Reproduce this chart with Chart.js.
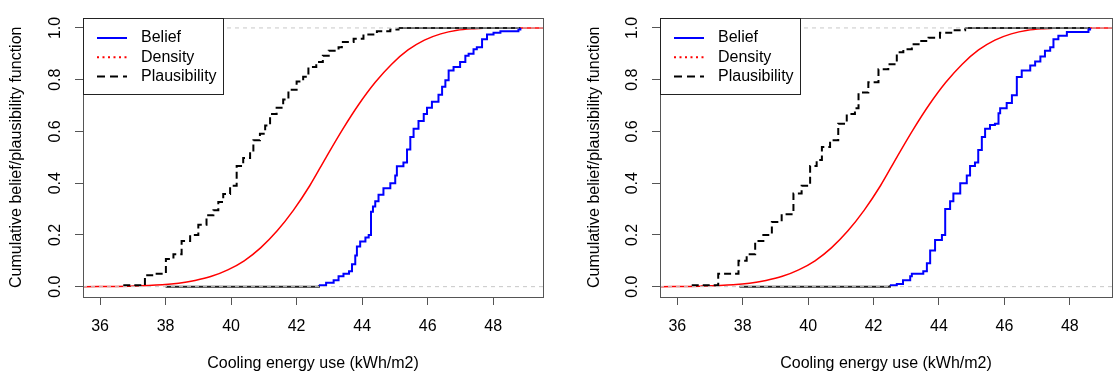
<!DOCTYPE html>
<html>
<head>
<meta charset="utf-8">
<script src="https://cdn.jsdelivr.net/npm/chart.js@4.4.0/dist/chart.umd.min.js"></script>
<style>
  body { margin: 0; background: #fff; }
  #wrap { position: relative; width: 1114px; height: 376px; }
  canvas { position: absolute; top: 0; }
</style>
</head>
<body>
<div id="wrap">
  <canvas id="leftPanel" width="557" height="376" style="left:0"></canvas>
  <canvas id="rightPanel" width="557" height="376" style="left:557px"></canvas>
</div>
<script>
// axis ticks and labels
const xTicks = [36, 38, 40, 42, 44, 46, 48];
const yTicks = [0, 0.2, 0.4, 0.6, 0.8, 1.0];
const refLevels = [0, 1];
const seriesNames = ['Belief', 'Density', 'Plausibility'];
const xTitle = 'Cooling energy use (kWh/m2)';
const yTitle = 'Cumulative belief/plausibility function';

// left panel
const leftBelX = [38.0, 42.68, 42.9, 43.13, 43.28, 43.43, 43.6, 43.69, 43.79, 43.84, 43.94, 44.1, 44.2, 44.27, 44.33, 44.4, 44.5, 44.65, 44.86, 45.01, 45.06, 45.26, 45.37, 45.47, 45.57, 45.72, 45.88, 45.98, 46.13, 46.33, 46.44, 46.54, 46.64, 46.79, 46.99, 47.15, 47.25, 47.4, 47.5, 47.66, 47.81, 48.01, 48.22, 48.77, 48.83];
const leftBelY = [0, 0.005, 0.015, 0.025, 0.04, 0.05, 0.06, 0.087, 0.12, 0.155, 0.175, 0.19, 0.2, 0.29, 0.31, 0.33, 0.355, 0.38, 0.4, 0.43, 0.465, 0.48, 0.53, 0.578, 0.61, 0.64, 0.667, 0.692, 0.715, 0.742, 0.773, 0.798, 0.836, 0.849, 0.868, 0.893, 0.9, 0.918, 0.925, 0.956, 0.975, 0.981, 0.987, 0.994, 1.0];
const leftPlX = [36.71, 37.37, 37.63, 38.01, 38.24, 38.49, 38.75, 39.0, 39.25, 39.46, 39.61, 39.76, 39.97, 40.17, 40.37, 40.58, 40.68, 40.88, 41.04, 41.19, 41.39, 41.59, 41.75, 42.0, 42.2, 42.36, 42.6, 42.8, 42.98, 43.28, 43.38, 43.74, 44.04, 44.45, 44.86, 45.11, 48.83];
const leftPlY = [0.005, 0.044, 0.05, 0.107, 0.125, 0.176, 0.2, 0.239, 0.276, 0.295, 0.327, 0.358, 0.39, 0.466, 0.497, 0.516, 0.566, 0.591, 0.623, 0.667, 0.692, 0.723, 0.761, 0.793, 0.811, 0.849, 0.868, 0.893, 0.912, 0.925, 0.946, 0.958, 0.975, 0.987, 0.994, 1.0, 1.0];
const leftDenX = [35.48, 36.9, 37.9, 38.4, 38.9, 39.4, 39.9, 40.4, 40.9, 41.4, 41.9, 42.4, 42.9, 43.4, 43.9, 44.4, 44.9, 45.4, 45.9, 46.4, 46.9, 47.4, 47.9, 49.52];
const leftDenY = [0, 0.002, 0.007, 0.013, 0.024, 0.04, 0.065, 0.1, 0.15, 0.215, 0.295, 0.39, 0.5, 0.607, 0.705, 0.79, 0.86, 0.915, 0.953, 0.977, 0.991, 0.997, 1.0, 1.0];

// right panel
const rightBelX = [37.9, 42.5, 42.71, 42.9, 43.12, 43.17, 43.52, 43.63, 43.73, 43.88, 44.09, 44.19, 44.34, 44.44, 44.65, 44.85, 44.95, 45.1, 45.2, 45.31, 45.41, 45.56, 45.71, 45.82, 45.87, 46.07, 46.23, 46.38, 46.53, 46.79, 46.94, 47.1, 47.24, 47.4, 47.5, 47.65, 47.91, 48.57, 48.62];
const rightBelY = [0, 0.005, 0.01, 0.025, 0.04, 0.05, 0.06, 0.09, 0.14, 0.18, 0.2, 0.3, 0.33, 0.36, 0.4, 0.43, 0.466, 0.48, 0.528, 0.578, 0.61, 0.625, 0.63, 0.67, 0.69, 0.71, 0.74, 0.81, 0.836, 0.855, 0.87, 0.89, 0.912, 0.925, 0.956, 0.97, 0.984, 0.994, 1.0];
const rightPlX = [36.44, 37.25, 37.87, 38.12, 38.38, 38.63, 38.89, 39.19, 39.55, 39.8, 40.06, 40.26, 40.42, 40.67, 40.92, 41.18, 41.43, 41.54, 41.84, 42.15, 42.45, 42.71, 42.91, 43.17, 43.42, 43.68, 44.03, 44.44, 44.8, 48.62];
const rightPlY = [0.005, 0.05, 0.1, 0.125, 0.176, 0.2, 0.25, 0.28, 0.36, 0.39, 0.466, 0.49, 0.54, 0.566, 0.63, 0.667, 0.69, 0.75, 0.79, 0.84, 0.86, 0.906, 0.918, 0.937, 0.95, 0.962, 0.981, 0.991, 1.0, 1.0];
const rightDenX = [35.47, 36.71, 37.71, 38.21, 38.71, 39.21, 39.71, 40.21, 40.71, 41.21, 41.71, 42.21, 42.71, 43.21, 43.71, 44.21, 44.71, 45.21, 45.71, 46.21, 46.71, 47.21, 47.71, 49.29];
const rightDenY = [0, 0.002, 0.007, 0.013, 0.024, 0.04, 0.065, 0.1, 0.15, 0.215, 0.295, 0.39, 0.5, 0.607, 0.705, 0.79, 0.86, 0.915, 0.953, 0.977, 0.991, 0.997, 1.0, 1.0];

const FONT = "'Liberation Sans', Arial, sans-serif";
Chart.defaults.font.family = FONT;
Chart.defaults.font.size = 16;
Chart.defaults.color = '#000';

function zip(xs, ys) {
  return xs.map((x, i) => ({ x: x, y: ys[i] }));
}

// R style box round the plot area
const plotBox = {
  id: 'plotBox',
  afterDraw(chart) {
    const a = chart.chartArea;
    const ctx = chart.ctx;
    ctx.save();
    ctx.strokeStyle = '#555';
    ctx.lineWidth = 1;
    ctx.strokeRect(Math.round(a.left) + 0.5, Math.round(a.top) + 0.5,
      Math.round(a.right - a.left), Math.round(a.bottom - a.top));
    ctx.restore();
  }
};

// legend in the top left corner, like legend("topleft") in R
const legendLines = [
  { color: '#0000ff', dash: [], width: 2 },
  { color: '#ff0000', dash: [2, 3.5], width: 2 },
  { color: '#000000', dash: [8, 5], width: 2 }
];
const cornerLegend = {
  id: 'cornerLegend',
  afterDraw(chart) {
    const a = chart.chartArea;
    const ctx = chart.ctx;
    const x0 = Math.round(a.left) + 0.5, y0 = Math.round(a.top) + 0.5;
    ctx.save();
    ctx.fillStyle = '#fff';
    ctx.fillRect(x0, y0, 140, 76);
    ctx.strokeStyle = '#222';
    ctx.lineWidth = 1;
    ctx.strokeRect(x0, y0, 140, 76);
    seriesNames.forEach((name, i) => {
      const st = legendLines[i];
      const yy = y0 + 19.5 + i * 19.2;
      ctx.beginPath();
      ctx.setLineDash(st.dash);
      ctx.strokeStyle = st.color;
      ctx.lineWidth = st.width;
      ctx.moveTo(x0 + 13.5, yy);
      ctx.lineTo(x0 + 43.5, yy);
      ctx.stroke();
      ctx.setLineDash([]);
      ctx.fillStyle = '#000';
      ctx.font = '16px ' + FONT;
      ctx.textBaseline = 'middle';
      ctx.fillText(name, x0 + 57.5, yy);
    });
    ctx.restore();
  }
};

function makePanel(id, bel, pl, den, geom) {
  const refSets = refLevels.map(v => ({
    data: [{ x: geom.xMin, y: v }, { x: geom.xMax, y: v }],
    borderColor: '#c8c8c8', borderWidth: 1, borderDash: [4, 4], order: 0
  }));
  return new Chart(document.getElementById(id), {
    type: 'line',
    data: {
      datasets: [
        ...refSets,
        {
          label: seriesNames[0], data: bel, stepped: true,
          borderColor: '#0000ff', borderWidth: 2, order: 1,
          segment: { borderColor: c => c.p0.parsed.y === 0 ? '#222' : undefined }
        },
        {
          label: seriesNames[2], data: pl, stepped: true,
          borderColor: '#000', borderWidth: 2, borderDash: [7, 4], order: 2,
          segment: {
            borderColor: c => c.p0.parsed.y === 1 ? '#222' : undefined,
            borderDash: c => c.p0.parsed.y === 1 ? [] : undefined
          }
        },
        {
          label: seriesNames[1], data: den,
          borderColor: '#ff0000', borderWidth: 1.5, cubicInterpolationMode: 'monotone', order: 3
        }
      ]
    },
    options: {
      responsive: false,
      animation: false,
      devicePixelRatio: 1,
      layout: { padding: { top: 11, right: geom.padRight, left: 0, bottom: 0 } },
      elements: { point: { radius: 0 } },
      plugins: { legend: { display: false }, tooltip: { enabled: false } },
      scales: {
        x: {
          type: 'linear', min: geom.xMin, max: geom.xMax,
          afterBuildTicks: s => { s.ticks = xTicks.map(v => ({ value: v })); },
          afterFit: s => { s.height = 79; },
          border: { display: false },
          grid: { drawOnChartArea: false, tickLength: 8, tickColor: '#555', color: '#555' },
          ticks: { padding: 12, maxRotation: 0, autoSkip: false, color: '#000' },
          title: { display: true, text: xTitle, color: '#000', padding: { top: 0, bottom: 3 } }
        },
        y: {
          type: 'linear', min: -0.04, max: 1.04,
          afterBuildTicks: s => { s.ticks = yTicks.map(v => ({ value: v })); },
          afterFit: s => { s.width = geom.axisWidth; },
          border: { display: false },
          grid: { drawOnChartArea: false, tickLength: 8, tickColor: '#555', color: '#555' },
          ticks: {
            callback: v => v.toFixed(1), minRotation: 90, maxRotation: 90,
            crossAlign: 'center', padding: 8, autoSkip: false, color: '#000'
          },
          title: { display: true, text: yTitle, color: '#000', padding: { top: geom.yTitlePad, bottom: 0 } }
        }
      }
    },
    plugins: [plotBox, cornerLegend]
  });
}

makePanel('leftPanel', zip(leftBelX, leftBelY), zip(leftPlX, leftPlY), zip(leftDenX, leftDenY),
  { xMin: 35.48, xMax: 49.52, axisWidth: 83, padRight: 14, yTitlePad: 7 });
makePanel('rightPanel', zip(rightBelX, rightBelY), zip(rightPlX, rightPlY), zip(rightDenX, rightDenY),
  { xMin: 35.47, xMax: 49.29, axisWidth: 103, padRight: 2, yTitlePad: 28 });
</script>
</body>
</html>
